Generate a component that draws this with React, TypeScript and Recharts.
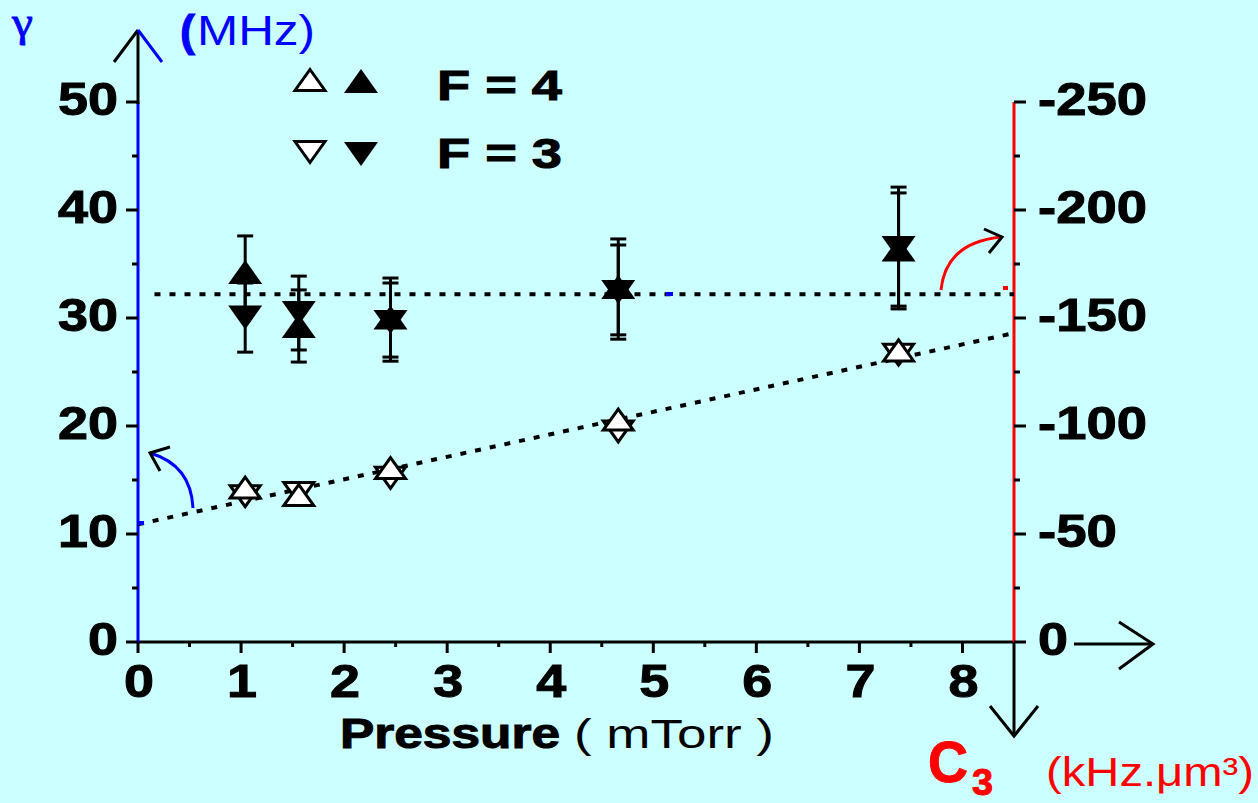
import React from 'react';
import { ScatterChart, Scatter, XAxis, YAxis, ErrorBar } from 'recharts';

// pressure (mTorr) of the five measurements
const pressure = [1.04, 1.56, 2.45, 4.66, 7.38];

// open symbols: linewidth gamma (MHz), left axis
const gammaF4 = [14.3, 13.6, 16.1, 20.6, 27.0];
const gammaF3 = [13.5, 13.8, 15.2, 19.5, 26.6];

// filled symbols: C3 (kHz.um^3), right axis
const c3F4 = [-171.3, -146.3, -150.2, -164.4, -181.7];
const c3F4Err = [16.7, 16.7, 18.3, 22.2, 26.2];
const c3F3 = [-150.2, -152.3, -148.1, -162.0, -182.4];
const c3F3Err = [16.0, 17.1, 18.1, 21.8, 28.2];

// dotted fit lines
const gammaFitX = [0, 8.5];
const gammaFitY = [10.9, 28.6];
const c3FitX = [0.16, 8.5];
const c3FitY = [-161, -161];

const xTicks = [0, 0.5, 1, 1.5, 2, 2.5, 3, 3.5, 4, 4.5, 5, 5.5, 6, 6.5, 7, 7.5, 8];
const gammaTicks = [0, 5, 10, 15, 20, 25, 30, 35, 40, 45, 50];
const c3Ticks = [-250, -225, -200, -175, -150, -125, -100, -75, -50, -25, 0];

const BG = '#CCFFFF';
const BLUE = '#0000FF';
const RED = '#FF0000';
const SANS = "'Liberation Sans', Arial, sans-serif";

const toPoints = (xs: number[], ys: number[], errs?: number[]) =>
  xs.map((x, i) => ({ x, y: ys[i], err: errs ? errs[i] : 0 }));

const triPath = (cx: number, cy: number, hw: number, h: number, up: boolean) =>
  up
    ? `M${cx},${cy - h / 2}L${cx + hw},${cy + h / 2}L${cx - hw},${cy + h / 2}Z`
    : `M${cx},${cy + h / 2}L${cx + hw},${cy - h / 2}L${cx - hw},${cy - h / 2}Z`;

const labelWidth = (s: string) => s.replace('-', '').length * 30 + (s.includes('-') ? 19 : 0);

function OpenUp(p: any) {
  return <path d={triPath(p.cx, p.cy, 15, 21, true)} fill="#fff" stroke="#000" strokeWidth={3} />;
}
function OpenDown(p: any) {
  return <path d={triPath(p.cx, p.cy, 15, 21, false)} fill="#fff" stroke="#000" strokeWidth={3} />;
}
function FilledUp(p: any) {
  return <path d={triPath(p.cx, p.cy, 17, 24, true)} fill="#000" />;
}
function FilledDown(p: any) {
  return <path d={triPath(p.cx, p.cy, 17, 24, false)} fill="#000" />;
}
function NoShape() {
  return <g />;
}

function TickText({ x, y, s, anchor }: { x: number; y: number; s: string; anchor: 'start' | 'middle' | 'end' }) {
  return (
    <text
      x={x}
      y={y}
      textAnchor={anchor}
      fontFamily={SANS}
      fontWeight="bold"
      fontSize={46}
      fill="#000"
      stroke="#000"
      strokeWidth={1}
      textLength={labelWidth(s)}
      lengthAdjust="spacingAndGlyphs"
    >
      {s}
    </text>
  );
}

function GammaTick({ x, y, payload }: any) {
  const v = payload.value;
  const major = v % 10 === 0;
  return (
    <g>
      <line x1={x - (major ? 12 : 6)} x2={x} y1={y} y2={y} stroke="#000" strokeWidth={3} />
      {major && <TickText x={x - 20} y={y + 13} s={String(v)} anchor="end" />}
    </g>
  );
}

function C3Tick({ x, y, payload }: any) {
  const v = payload.value;
  const major = v % 50 === 0;
  return (
    <g>
      <line x1={x} x2={x + (major ? 12 : 6)} y1={y} y2={y} stroke="#000" strokeWidth={3} />
      {major && <TickText x={x + 24} y={y + 13} s={String(v)} anchor="start" />}
    </g>
  );
}

function PressureTick({ x, y, payload }: any) {
  const v = payload.value;
  const major = Number.isInteger(v);
  return (
    <g>
      <line x1={x} x2={x} y1={y} y2={y + (major ? 11 : 5)} stroke="#000" strokeWidth={3} />
      {major && <TickText x={x + 1} y={y + 55} s={String(v)} anchor="middle" />}
    </g>
  );
}

function Overlay() {
  return (
    <svg width={1258} height={803} style={{ position: 'absolute', left: 0, top: 0, pointerEvents: 'none' }}>
      {/* left axis arrow */}
      <line x1={138} y1={104} x2={138} y2={30} stroke="#000" strokeWidth={3} />
      <line x1={114} y1={62} x2={138} y2={30} stroke="#000" strokeWidth={3} />
      <line x1={138} y1={30} x2={162} y2={62} stroke={BLUE} strokeWidth={3} />
      {/* right/bottom arrows */}
      <line x1={1074} y1={644} x2={1153} y2={644} stroke="#000" strokeWidth={3} />
      <polyline points="1119,622 1153,644 1119,669" fill="none" stroke="#000" strokeWidth={3} />
      <line x1={1014} y1={642} x2={1014} y2={736} stroke="#000" strokeWidth={3} />
      <polyline points="990,706 1014,736 1038,706" fill="none" stroke="#000" strokeWidth={3} />

      {/* curved pointers */}
      <path d="M193,508 Q191,465 150,453" fill="none" stroke={BLUE} strokeWidth={3} />
      <polyline points="170,447 150,453 160,471" fill="none" stroke="#000" strokeWidth={3} />
      <path d="M941,290 Q946,242 1002,237" fill="none" stroke={RED} strokeWidth={3} />
      <polyline points="984,229 1002,237 989,253" fill="none" stroke="#000" strokeWidth={3} />
      <rect x={1003} y={286} width={5} height={4} fill={RED} />
      <rect x={666} y={292} width={7} height={4} fill={BLUE} />
      <rect x={138} y={521} width={6} height={4} fill={BLUE} />

      {/* left title */}
      <text x={12} y={36} fontFamily="'Liberation Serif', serif" fontSize={42} fill={BLUE} stroke={BLUE} strokeWidth={0.8} textLength={21} lengthAdjust="spacingAndGlyphs">
        γ
      </text>
      <text x={180} y={46} fontFamily={SANS} fontWeight="bold" fontSize={44} fill={BLUE} stroke={BLUE} strokeWidth={1} textLength={15} lengthAdjust="spacingAndGlyphs">
        (
      </text>
      <text x={197} y={45} fontFamily={SANS} fontSize={42} fill={BLUE} textLength={118} lengthAdjust="spacingAndGlyphs">
        MHz)
      </text>

      {/* legend */}
      <path d={triPath(310, 80, 15, 21, true)} fill="#fff" stroke="#000" strokeWidth={3} />
      <path d={triPath(361, 81, 17, 24, true)} fill="#000" />
      <text x={437} y={100} fontFamily={SANS} fontWeight="bold" fontSize={42} fill="#000" stroke="#000" strokeWidth={1} textLength={125} lengthAdjust="spacingAndGlyphs">
        F = 4
      </text>
      <path d={triPath(310, 152, 15, 21, false)} fill="#fff" stroke="#000" strokeWidth={3} />
      <path d={triPath(361, 154, 17, 24, false)} fill="#000" />
      <text x={437} y={168} fontFamily={SANS} fontWeight="bold" fontSize={42} fill="#000" stroke="#000" strokeWidth={1} textLength={125} lengthAdjust="spacingAndGlyphs">
        F = 3
      </text>

      {/* x title */}
      <text x={340} y={748} fontFamily={SANS} fontWeight="bold" fontSize={42} fill="#000" stroke="#000" strokeWidth={1} textLength={220} lengthAdjust="spacingAndGlyphs">
        Pressure
      </text>
      <text x={574} y={748} fontFamily={SANS} fontSize={40} fill="#000" textLength={200} lengthAdjust="spacingAndGlyphs">
        ( mTorr )
      </text>

      {/* right title */}
      <text x={928} y={782} fontFamily={SANS} fontWeight="bold" fontSize={58} fill={RED} stroke={RED} strokeWidth={1} textLength={40} lengthAdjust="spacingAndGlyphs">
        C
      </text>
      <text x={972} y={795} fontFamily={SANS} fontWeight="bold" fontSize={36} fill={RED} stroke={RED} strokeWidth={1} textLength={21} lengthAdjust="spacingAndGlyphs">
        3
      </text>
      <text x={1046} y={786} fontFamily={SANS} fontSize={40} fill={RED} textLength={208} lengthAdjust="spacingAndGlyphs">
        (kHz.μm³)
      </text>
    </svg>
  );
}

export default function App() {
  const dotted = { stroke: '#000', strokeWidth: 4, strokeDasharray: '6 9' };
  return (
    <div style={{ position: 'relative', width: 1258, height: 803, background: BG, fontFamily: SANS }}>
      <style>{'body{margin:0}'}</style>
      <ScatterChart width={1258} height={803} margin={{ top: 102, right: 0, bottom: 0, left: 0 }}>
        <XAxis
          dataKey="x"
          type="number"
          domain={[0, 8.5]}
          ticks={xTicks}
          interval={0}
          height={161}
          axisLine={{ stroke: '#000', strokeWidth: 3 }}
          tickLine={false}
          tickSize={0}
          tickMargin={0}
          tick={<PressureTick />}
        />
        <YAxis
          yAxisId="g"
          dataKey="y"
          type="number"
          orientation="left"
          domain={[0, 50]}
          ticks={gammaTicks}
          interval={0}
          width={138}
          axisLine={{ stroke: BLUE, strokeWidth: 3 }}
          tickLine={false}
          tickSize={0}
          tickMargin={0}
          tick={<GammaTick />}
        />
        <YAxis
          yAxisId="c"
          dataKey="y"
          type="number"
          orientation="right"
          domain={[-250, 0]}
          reversed
          ticks={c3Ticks}
          interval={0}
          width={244}
          axisLine={{ stroke: RED, strokeWidth: 3 }}
          tickLine={false}
          tickSize={0}
          tickMargin={0}
          tick={<C3Tick />}
        />

        <Scatter yAxisId="g" data={toPoints(gammaFitX, gammaFitY)} line={dotted} shape={<NoShape />} isAnimationActive={false} />
        <Scatter yAxisId="c" data={toPoints(c3FitX, c3FitY)} line={dotted} shape={<NoShape />} isAnimationActive={false} />

        <Scatter yAxisId="c" data={toPoints(pressure, c3F3, c3F3Err)} shape={<FilledDown />} isAnimationActive={false}>
          <ErrorBar dataKey="err" direction="y" width={8} stroke="#000" strokeWidth={3} />
        </Scatter>
        <Scatter yAxisId="c" data={toPoints(pressure, c3F4, c3F4Err)} shape={<FilledUp />} isAnimationActive={false}>
          <ErrorBar dataKey="err" direction="y" width={8} stroke="#000" strokeWidth={3} />
        </Scatter>

        <Scatter yAxisId="g" data={toPoints(pressure, gammaF3)} shape={<OpenDown />} isAnimationActive={false} />
        <Scatter yAxisId="g" data={toPoints(pressure, gammaF4)} shape={<OpenUp />} isAnimationActive={false} />
      </ScatterChart>
      <Overlay />
    </div>
  );
}
